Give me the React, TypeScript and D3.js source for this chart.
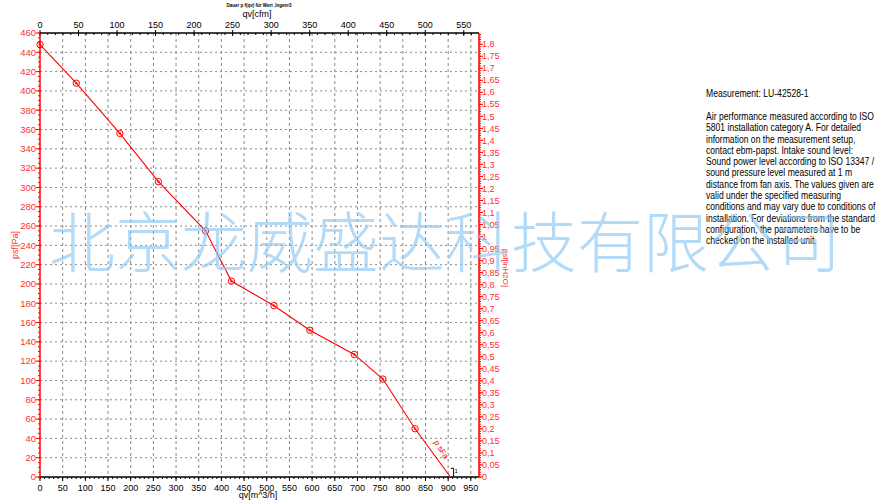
import React from 'react'
import * as d3 from 'd3'

// operating curve: qv [m^3/h] vs psf [Pa]
const qvValues = [0, 80, 176, 261, 365, 422, 516, 595, 693, 756, 827, 905]
const psfValues = [448, 408, 356, 306, 255, 203, 177.5, 152, 127, 101.5, 50, 0]

const qvTicks = d3.range(0, 951, 50)
const cfmTicks = d3.range(0, 551, 50)
const paTicks = d3.range(0, 461, 20)
const inTicks = d3.range(0, 37).map((i) => +(i * 0.05).toFixed(2))

const noteTitle = 'Measurement: LU-42528-1'
const noteLines = [
  'Air performance measured according to ISO',
  '5801 installation category A. For detailed',
  'information on the measurement setup,',
  'contact ebm-papst. Intake sound level:',
  'Sound power level according to ISO 13347 /',
  'sound pressure level measured at 1 m',
  'distance from fan axis. The values given are',
  'valid under the specified measuring',
  'conditions and may vary due to conditions of',
  'installation. For deviations from the standard',
  'configuration, the parameters have to be',
  'checked on the installed unit.',
]
const watermark = '北京龙威盛达科技有限公司'

const W = 891
const H = 504
const left = 40
const right = 479
const top = 33
const bottom = 477
const qvMax = 968
const paMax = 460

const red = '#ff0000'
const labelRed = '#ff3030'
const font = 'Liberation Sans, Arial, sans-serif'

const fmtComma = (v: number) => String(+v.toFixed(2)).replace('.', ',')

export default function App() {
  const x = d3.scaleLinear().domain([0, qvMax]).range([left, right])
  const xCfm = d3.scaleLinear().domain([0, qvMax / 1.699]).range([left, right])
  const y = d3.scaleLinear().domain([0, paMax]).range([bottom, top])
  const yIn = d3.scaleLinear().domain([0, paMax / 249.089]).range([bottom, top])

  const pts = qvValues.map((q, i) => [q, psfValues[i]] as [number, number])
  const line = d3
    .line<[number, number]>()
    .x((d) => x(d[0]))
    .y((d) => y(d[1]))

  const qvMinor = d3.range(0, qvMax, 10)
  const cfmMinor = d3.range(0, qvMax / 1.699, 10)
  const paMinor = d3.range(0, paMax + 1, 5)
  const inMinor = d3.range(0, 185).map((i) => i / 100)

  return (
    <svg
      width={W}
      height={H}
      style={{ position: 'absolute', left: 0, top: 0, background: '#fff' }}
      fontFamily={font}
    >
      <rect x={0} y={0} width={W} height={H} fill="#fff" />

      {/* grid */}
      {qvTicks
        .filter((t) => t > 0)
        .map((t) => (
          <line
            key={'gv' + t}
            x1={x(t)}
            x2={x(t)}
            y1={top}
            y2={bottom}
            stroke="#8a8a8a"
            strokeDasharray="3,3"
            strokeWidth={1}
          />
        ))}
      {paTicks
        .filter((t) => t > 0 && t < paMax)
        .map((t) => (
          <line
            key={'gh' + t}
            x1={left}
            x2={right}
            y1={y(t)}
            y2={y(t)}
            stroke="#8a8a8a"
            strokeDasharray="2,3"
            strokeWidth={1}
          />
        ))}

      {/* bottom axis */}
      <line x1={left} x2={right} y1={bottom} y2={bottom} stroke="#000" strokeWidth={1.5} />
      {qvMinor.map((t) => (
        <line key={'bm' + t} x1={x(t)} x2={x(t)} y1={bottom} y2={bottom + 2} stroke="#000" />
      ))}
      {qvTicks.map((t) => (
        <g key={'bt' + t}>
          <line x1={x(t)} x2={x(t)} y1={bottom} y2={bottom + 4} stroke="#000" />
          <text x={x(t)} y={bottom + 14} fontSize={9} textAnchor="middle" fill="#000">
            {t}
          </text>
        </g>
      ))}
      <text x={258} y={498} fontSize={9} textAnchor="middle" fill="#000">
        qv[m^3/h]
      </text>

      {/* top axis */}
      <line x1={left} x2={right} y1={top} y2={top} stroke="#000" strokeWidth={1.5} />
      {cfmMinor.map((t) => (
        <line key={'tm' + t} x1={xCfm(t)} x2={xCfm(t)} y1={top} y2={top + 2} stroke="#000" />
      ))}
      {cfmTicks.map((t) => (
        <g key={'tt' + t}>
          <line x1={xCfm(t)} x2={xCfm(t)} y1={top - 3} y2={top + 3} stroke="#000" />
          <text x={xCfm(t)} y={top - 5} fontSize={9} textAnchor="middle" fill="#000">
            {t}
          </text>
        </g>
      ))}
      <text x={257} y={17} fontSize={9} textAnchor="middle" fill="#000">
        qv[cfm]
      </text>
      <text x={259} y={7} fontSize={4.5} fontWeight="bold" textAnchor="middle" fill="#000">
        Dauer p f(qv) für Wert ,Ingenr3
      </text>

      {/* left axis */}
      <line x1={left} x2={left} y1={top} y2={bottom} stroke={red} strokeWidth={1.5} />
      {paMinor.map((t) => (
        <line key={'lm' + t} x1={left - 2} x2={left} y1={y(t)} y2={y(t)} stroke={red} />
      ))}
      {paTicks.map((t) => (
        <g key={'lt' + t}>
          <line x1={left - 4} x2={left} y1={y(t)} y2={y(t)} stroke={red} />
          <text
            x={left - 4}
            y={y(t)}
            dy="0.35em"
            fontSize={9.5}
            textAnchor="end"
            fill={labelRed}
          >
            {t}
          </text>
        </g>
      ))}
      <text
        transform={`translate(18,${245}) rotate(-90)`}
        fontSize={9}
        textAnchor="middle"
        fill={labelRed}
      >
        psf[Pa]
      </text>

      {/* right axis */}
      <line x1={right} x2={right} y1={top} y2={bottom} stroke={red} strokeWidth={1.5} />
      {inMinor.map((t) => (
        <line key={'rm' + t} x1={right} x2={right + 2} y1={yIn(t)} y2={yIn(t)} stroke={red} />
      ))}
      {inTicks.map((t) => (
        <g key={'rt' + t}>
          <line x1={right} x2={right + 4} y1={yIn(t)} y2={yIn(t)} stroke={red} />
          <text x={right + 3} y={yIn(t)} dy="0.35em" fontSize={9} fill={labelRed}>
            {fmtComma(t)}
          </text>
        </g>
      ))}
      <text
        transform={`translate(503,${268}) rotate(90)`}
        fontSize={8}
        textAnchor="middle"
        fill={labelRed}
      >
        psf[inH2O]
      </text>

      {/* curve */}
      <path d={line(pts) || ''} fill="none" stroke={red} strokeWidth={1.1} />
      {pts.slice(0, -1).map((d, i) => (
        <g key={'c' + i}>
          <circle cx={x(d[0])} cy={y(d[1])} r={3.2} fill="none" stroke={red} strokeWidth={1} />
          <circle cx={x(d[0])} cy={y(d[1])} r={1} fill="none" stroke={red} strokeWidth={0.8} />
        </g>
      ))}
      <text
        transform={`translate(${x(868)},${y(36)}) rotate(58)`}
        fontSize={8}
        fill={red}
      >
        p sFa
      </text>
      <line x1={x(912)} x2={x(912)} y1={y(0)} y2={y(9)} stroke="#000" strokeWidth={1} />
      <line x1={x(906)} x2={x(912)} y1={y(9)} y2={y(9)} stroke="#000" strokeWidth={1} />
      <text x={x(912) + 1} y={y(4)} fontSize={6} fill="#000">
        1
      </text>

      {/* notes */}
      <g transform="translate(706,0) scale(0.86,1)" fontSize={10} fill="#000">
        <text x={0} y={97}>
          {noteTitle}
        </text>
        {noteLines.map((s, i) => (
          <text key={'n' + i} x={0} y={120 + i * 11.3}>
            {s}
          </text>
        ))}
      </g>

      {/* watermark */}
      <text
        x={49}
        y={267}
        fontSize={66}
        fontFamily="Noto Sans CJK SC, sans-serif"
        fontWeight={300}
        fill="#8cc8f4"
        opacity={0.65}
      >
        {watermark}
      </text>
    </svg>
  )
}
